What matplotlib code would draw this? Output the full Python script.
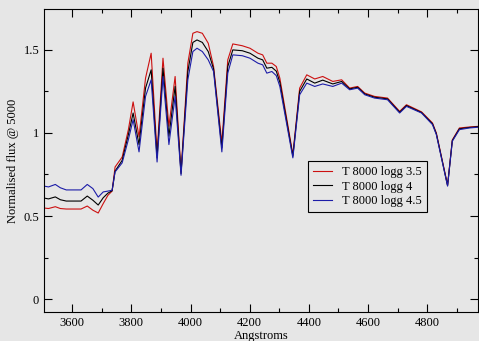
import numpy as np
import matplotlib
matplotlib.use('Agg')
import matplotlib.pyplot as plt
from matplotlib.ticker import MultipleLocator

# wavelength grid (Angstroms)
wavelength = [3505, 3520, 3543, 3560, 3580, 3600, 3630, 3651, 3670, 3688,
              3705, 3721, 3735, 3745, 3769, 3790, 3806, 3826, 3848, 3867,
              3887, 3907, 3927, 3948, 3968, 3991, 4008, 4022, 4040, 4060,
              4078, 4106, 4126, 4143, 4175, 4201, 4228, 4244, 4258, 4275,
              4290, 4302, 4346, 4369, 4393, 4420, 4447, 4481, 4511, 4538,
              4565, 4589, 4622, 4666, 4707, 4730, 4781, 4818, 4831, 4869,
              4885, 4909, 4943, 4975]

flux_logg35 = [0.548, 0.545, 0.556, 0.545, 0.542, 0.542, 0.542, 0.560, 0.535, 0.518,
               0.575, 0.625, 0.650, 0.795, 0.855, 1.020, 1.187, 0.976, 1.330, 1.480,
               0.880, 1.450, 1.040, 1.340, 0.765, 1.420, 1.600, 1.610, 1.600, 1.540,
               1.400, 0.940, 1.440, 1.536, 1.525, 1.510, 1.480, 1.470, 1.420, 1.420,
               1.400, 1.330, 0.870, 1.270, 1.350, 1.325, 1.340, 1.310, 1.320, 1.270,
               1.280, 1.240, 1.220, 1.210, 1.130, 1.170, 1.127, 1.060, 1.000, 0.687,
               0.958, 1.030, 1.036, 1.040]

flux_logg4 = [0.608, 0.603, 0.615, 0.598, 0.590, 0.590, 0.590, 0.620, 0.595, 0.566,
              0.610, 0.638, 0.652, 0.770, 0.835, 0.990, 1.120, 0.930, 1.270, 1.380,
              0.850, 1.390, 0.980, 1.280, 0.755, 1.370, 1.545, 1.560, 1.545, 1.490,
              1.385, 0.910, 1.400, 1.500, 1.495, 1.480, 1.450, 1.440, 1.390, 1.395,
              1.372, 1.305, 0.860, 1.250, 1.325, 1.300, 1.318, 1.295, 1.310, 1.265,
              1.275, 1.235, 1.215, 1.205, 1.125, 1.165, 1.123, 1.055, 0.995, 0.683,
              0.954, 1.025, 1.033, 1.038]

flux_logg45 = [0.680, 0.675, 0.690, 0.670, 0.657, 0.657, 0.657, 0.690, 0.665, 0.614,
               0.645, 0.650, 0.655, 0.765, 0.820, 0.960, 1.080, 0.886, 1.220, 1.320,
               0.825, 1.340, 0.930, 1.220, 0.745, 1.320, 1.490, 1.510, 1.490, 1.440,
               1.370, 0.886, 1.360, 1.470, 1.465, 1.450, 1.420, 1.410, 1.360, 1.370,
               1.345, 1.280, 0.850, 1.230, 1.300, 1.280, 1.295, 1.280, 1.300, 1.260,
               1.270, 1.230, 1.210, 1.200, 1.120, 1.160, 1.120, 1.050, 0.990, 0.680,
               0.950, 1.020, 1.030, 1.035]

labels = ['T 8000 logg 3.5', 'T 8000 logg 4', 'T 8000 logg 4.5']
colors = ['#cc1010', 'black', '#1c1ca8']

bg = '#e6e6e6'
plt.rcParams['font.family'] = 'Liberation Serif'
plt.rcParams['font.size'] = 9

fig = plt.figure(figsize=(4.79, 3.41), dpi=100, facecolor=bg)
ax = fig.add_axes([0.092, 0.085, 0.906, 0.889])
ax.set_facecolor(bg)

for flux, lab, c in zip([flux_logg35, flux_logg4, flux_logg45], labels, colors):
    ax.plot(wavelength, flux, color=c, lw=0.8, label=lab)

ax.set_xlim(3505, 4972)
ax.set_ylim(-0.078, 1.747)
ax.xaxis.set_major_locator(MultipleLocator(200))
ax.xaxis.set_minor_locator(MultipleLocator(100))
ax.yaxis.set_major_locator(MultipleLocator(0.5))
ax.yaxis.set_minor_locator(MultipleLocator(0.25))
ax.yaxis.set_major_formatter(plt.FuncFormatter(lambda v, p: '%g' % v))
ax.tick_params(which='both', direction='in', top=True, right=True, width=0.8)
ax.tick_params(which='major', length=6)
ax.tick_params(which='minor', length=3)
for s in ax.spines.values():
    s.set_linewidth(0.8)

ax.set_xlabel('Angstroms', labelpad=1)
ax.set_ylabel('Normalised flux @ 5000', labelpad=3)

leg = ax.legend(loc='upper left', bbox_to_anchor=(0.609, 0.498), borderaxespad=0,
                frameon=True, fancybox=False, edgecolor='black', facecolor=bg,
                framealpha=1, handlelength=1.5, handletextpad=0.8,
                labelspacing=0.2, borderpad=0.4, fontsize=9)
leg.get_frame().set_linewidth(0.8)

fig.savefig('out.png', dpi=100, facecolor=bg)
